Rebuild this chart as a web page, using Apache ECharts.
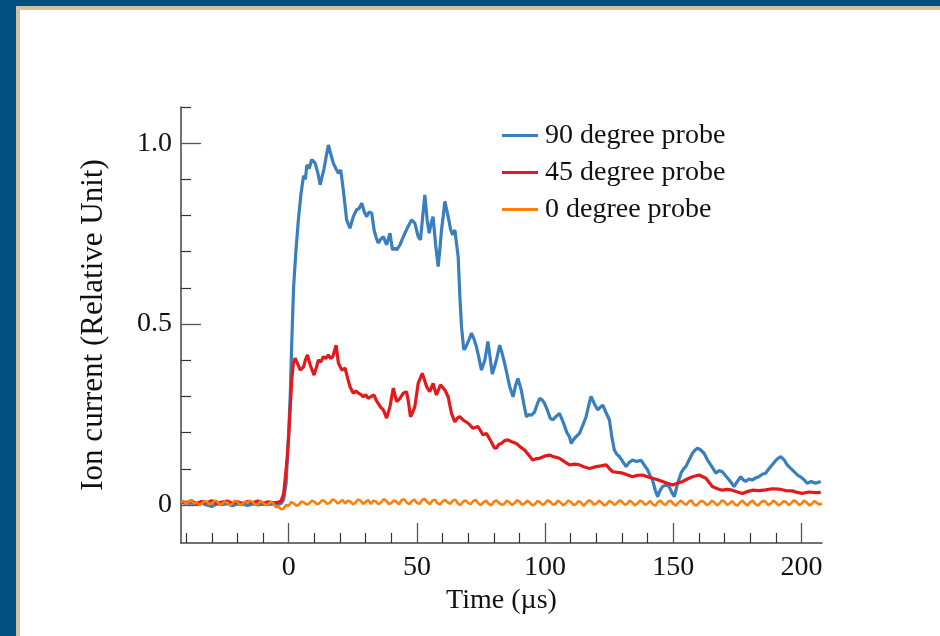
<!DOCTYPE html>
<html><head><meta charset="utf-8">
<script src="https://cdn.jsdelivr.net/npm/echarts@6/dist/echarts.min.js"></script>
<style>html,body{margin:0;padding:0;background:#fff}#c{width:940px;height:636px}</style>
</head><body><div id="c"></div>
<script>
var seriesNames = ['90 degree probe', '45 degree probe', '0 degree probe'];
var xLabelValues = [0, 50, 100, 150, 200];
var xMinorTicks = [-40,-30,-20,-10,10,20,30,40,60,70,80,90,110,120,130,140,160,170,180,190];
var yLabelValues = [0, 0.5, 1.0];
var yMinorTicks = [0.1,0.2,0.3,0.4,0.6,0.7,0.8,0.9,1.1];

var probe90 = [[-42,0.008],[-40,0.004],[-38,0.006],[-36,0.002],[-34,0.005],[-32,0.000],[-30,-0.004],[-28,0.003],[-26,0.001],[-24,0.004],[-22,-0.002],[-20,0.003],[-18,0.002],[-16,-0.001],[-14,0.003],[-12,0.000],[-10,0.002],[-8,0.001],[-6,0.003],[-4,0.002],[-3,0.004],[-2,0.014],[-1,0.06],[0,0.2],[0.6,0.3],[1.2,0.45],[1.9,0.60],[2.8,0.70],[3.8,0.79],[4.8,0.86],[5.8,0.91],[6.5,0.90],[7.1,0.94],[8,0.93],[9,0.955],[10.3,0.945],[11.3,0.92],[12.3,0.885],[13.1,0.91],[13.8,0.93],[14.8,0.97],[15.5,0.995],[16.4,0.97],[17.4,0.945],[18.4,0.93],[19.4,0.917],[20.3,0.926],[21.3,0.871],[22.6,0.788],[23.9,0.765],[25.2,0.797],[26.5,0.816],[27.5,0.82],[28.5,0.834],[29.5,0.81],[30.4,0.797],[31.4,0.81],[32.4,0.806],[33.3,0.76],[34.1,0.74],[34.9,0.724],[35.9,0.735],[36.9,0.742],[38.2,0.719],[39.5,0.751],[40.5,0.705],[41.3,0.71],[42.1,0.705],[43.4,0.719],[44.3,0.735],[45.3,0.751],[46.6,0.77],[47.9,0.788],[49.2,0.779],[50.5,0.742],[51.4,0.733],[52.3,0.8],[53.1,0.857],[54.0,0.788],[54.8,0.751],[55.6,0.78],[56.3,0.797],[57.3,0.72],[58.3,0.659],[59.0,0.71],[59.6,0.76],[60.3,0.8],[60.9,0.839],[62.2,0.797],[63.2,0.76],[63.9,0.747],[64.8,0.76],[65.5,0.72],[66.1,0.687],[66.7,0.586],[67.4,0.493],[68.3,0.429],[69.0,0.435],[69.7,0.44],[70.5,0.46],[71.3,0.475],[72.2,0.46],[73.2,0.438],[74.1,0.41],[75.2,0.373],[76.5,0.4],[77.7,0.452],[78.5,0.41],[79.4,0.362],[80.2,0.38],[81.0,0.4],[82.3,0.442],[83.2,0.42],[84.2,0.392],[85.2,0.36],[86.2,0.327],[87.5,0.299],[88.5,0.33],[89.4,0.35],[90.7,0.318],[91.7,0.28],[92.7,0.244],[93.7,0.25],[94.6,0.248],[95.9,0.257],[97.0,0.28],[97.9,0.295],[98.9,0.29],[99.8,0.281],[101.0,0.26],[102.0,0.24],[103.0,0.235],[104.3,0.245],[105.6,0.253],[107.0,0.23],[108.5,0.2],[109.5,0.189],[110.2,0.17],[111.0,0.18],[112.1,0.189],[113.4,0.198],[114.7,0.22],[116.0,0.244],[117.0,0.275],[117.9,0.3],[119.2,0.28],[120.5,0.263],[121.5,0.27],[122.5,0.276],[123.8,0.255],[125.1,0.235],[126.0,0.19],[127.0,0.152],[128.0,0.14],[129.0,0.134],[130.3,0.12],[131.6,0.106],[132.8,0.118],[134.1,0.124],[135.8,0.12],[137.4,0.124],[138.7,0.11],[140.0,0.097],[141.0,0.08],[141.9,0.069],[143.0,0.04],[143.9,0.023],[144.8,0.04],[145.8,0.051],[147.1,0.055],[148.4,0.051],[149.4,0.035],[150.4,0.023],[151.7,0.06],[153.0,0.088],[154.0,0.1],[154.9,0.106],[156.2,0.125],[157.5,0.143],[158.5,0.152],[159.4,0.157],[160.7,0.152],[162.0,0.143],[163.3,0.125],[164.6,0.111],[165.6,0.1],[166.6,0.088],[167.8,0.095],[169.1,0.092],[170.5,0.08],[171.8,0.069],[172.8,0.06],[173.7,0.051],[175.0,0.065],[176.3,0.078],[177.2,0.07],[178.2,0.065],[179.5,0.072],[180.8,0.069],[182.1,0.075],[183.4,0.078],[184.7,0.085],[186.0,0.088],[187.3,0.1],[188.6,0.111],[190.2,0.125],[191.9,0.134],[193.2,0.125],[194.4,0.111],[196.0,0.1],[197.7,0.088],[198.6,0.082],[199.6,0.078],[201.0,0.07],[202.2,0.06],[203.8,0.065],[205.5,0.06],[207.5,0.065]];

var probe45 = [[-42,0.01],[-40,0.006],[-38,0.012],[-36,0.004],[-34,0.01],[-32,0.006],[-30,0.012],[-28,0.004],[-26,0.008],[-24,0.011],[-22,0.005],[-20,0.009],[-18,0.004],[-16,0.01],[-14,0.006],[-12,0.011],[-10,0.005],[-8,0.009],[-6,0.006],[-4,0.008],[-3,0.01],[-2,0.03],[-1.4,0.069],[-0.6,0.13],[0,0.189],[0.6,0.27],[1.2,0.346],[1.8,0.39],[2.5,0.406],[3.5,0.39],[4.5,0.373],[5.8,0.382],[6.5,0.4],[7.3,0.415],[8.4,0.387],[9.9,0.359],[10.8,0.38],[11.6,0.401],[12.5,0.395],[13.5,0.41],[14.5,0.405],[15.5,0.415],[16.3,0.405],[17.2,0.41],[18.5,0.442],[19.4,0.392],[20.7,0.373],[22.0,0.378],[23.0,0.35],[23.9,0.327],[25.2,0.309],[26.2,0.315],[27.2,0.309],[28.2,0.305],[29.1,0.299],[30.0,0.305],[31.0,0.295],[32.2,0.3],[33.3,0.304],[34.1,0.29],[34.9,0.281],[35.9,0.27],[36.9,0.263],[38.2,0.24],[39.5,0.272],[40.8,0.323],[42.1,0.286],[43.4,0.295],[44.7,0.309],[46.0,0.313],[46.8,0.28],[47.5,0.244],[48.3,0.255],[49.2,0.272],[50.5,0.336],[52.1,0.364],[53.0,0.345],[53.8,0.327],[55.0,0.313],[56.3,0.336],[57.6,0.304],[59.2,0.332],[60.9,0.318],[62.2,0.299],[63.5,0.253],[64.8,0.23],[65.8,0.24],[66.7,0.244],[68.0,0.235],[70.0,0.226],[71.9,0.212],[73.8,0.217],[75.8,0.194],[77.1,0.198],[79.0,0.175],[80.2,0.158],[81.0,0.157],[82.0,0.168],[82.9,0.17],[84.2,0.178],[85.5,0.18],[87.0,0.175],[88.8,0.17],[90.4,0.16],[92.0,0.152],[93.6,0.138],[95.2,0.124],[96.5,0.128],[97.8,0.129],[99.8,0.135],[101.7,0.138],[103.6,0.133],[105.6,0.129],[107.5,0.12],[109.5,0.111],[111.5,0.113],[113.4,0.111],[115.3,0.105],[117.3,0.101],[119.9,0.106],[121.8,0.108],[123.8,0.111],[125.1,0.1],[126.4,0.092],[128.3,0.09],[130.3,0.088],[132.2,0.083],[134.1,0.078],[136.0,0.082],[138.0,0.083],[139.9,0.078],[141.9,0.074],[143.9,0.07],[145.8,0.065],[147.7,0.06],[149.7,0.055],[151.6,0.06],[153.6,0.065],[155.5,0.072],[157.5,0.078],[160.1,0.083],[162.7,0.074],[164.0,0.062],[165.2,0.051],[167.2,0.045],[169.1,0.041],[171.0,0.043],[173.0,0.041],[175.0,0.036],[176.9,0.032],[178.9,0.037],[180.8,0.041],[183.4,0.04],[186.0,0.042],[188.6,0.045],[191.2,0.044],[193.8,0.04],[196.4,0.039],[198.3,0.035],[200.3,0.032],[202.9,0.036],[205.5,0.034],[207.5,0.035]];

var probe0 = [[-42,0.008],[-41,0.012],[-40,0.002],[-39,0.009],[-38,0.013],[-37,0.004],[-36,0.008],[-35,0.001],[-34,0.003],[-33,0.011],[-32,0.009],[-31,0.002],[-30,0.005],[-29,0.012],[-28,0.011],[-27,0.001],[-26,0.003],[-25,0.010],[-24,0.007],[-23,-0.001],[-22,0.004],[-21,0.012],[-20,0.009],[-19,0.001],[-18,0.002],[-17,0.010],[-16,0.006],[-15,0.012],[-14,0.008],[-13,0.000],[-12,0.003],[-11,0.011],[-10,0.006],[-9,0.000],[-8,0.002],[-7,0.009],[-6,0.004],[-5,-0.006],[-4,-0.004],[-3,-0.012],[-2,-0.010],[-1,0.000],[0,-0.002],[1,0.008],[2,0.004],[3,-0.002],[4,0.001],[5,0.010],[6,0.007],[7,0.001],[8,0.004],[9,0.012],[10,0.009],[11,0.002],[12,0.005],[13,0.013],[14,0.011],[15,0.003],[16,0.006],[17,0.015],[18,0.013],[19,0.004],[20,0.008],[21,0.014],[22,0.004],[23,0.012],[24,0.01],[25,0.002],[26,0.006],[27,0.015],[28,0.012],[29,0.003],[30,0.008],[31,0.014],[32,0.003],[33,0.012],[34,0.01],[35,0.002],[36,0.007],[37,0.016],[38,0.012],[39,0.003],[40,0.005],[41,0.013],[42,0.009],[43,0.002],[44,0.013],[45,0.016],[46,0.007],[47,0.002],[48,0.011],[49,0.015],[50,0.006],[51,0.003],[52,0.014],[53,0.017],[54,0.008],[55,0.002],[56,0.012],[57,0.015],[58,0.005],[59,0.001],[60,0.01],[61,0.014],[62,0.007],[63,0.003],[64,0.012],[65,0.015],[66,0.004],[67,0.000],[68,0.009],[69,0.013],[70,0.006],[71,0.002],[72,0.011],[73,0.014],[74,0.004],[75,0.000],[76,0.008],[77,0.012],[78,0.003],[79,-0.001],[80,0.009],[81,0.013],[82,0.006],[83,0.001],[84,0.002],[85,0.012],[86,0.008],[87,0.000],[88,0.005],[89,0.013],[90,0.01],[91,0.001],[92,0.004],[93,0.012],[94,0.007],[95,-0.001],[96,0.002],[97,0.011],[98,0.008],[99,0.000],[100,0.005],[101,0.013],[102,0.009],[103,0.001],[104,0.003],[105,0.012],[106,0.007],[107,-0.001],[108,0.004],[109,0.012],[110,0.009],[111,0.000],[112,0.002],[113,0.011],[114,0.007],[115,-0.002],[116,0.005],[117,0.013],[118,0.01],[119,0.001],[120,0.004],[121,0.012],[122,0.007],[123,-0.001],[124,0.002],[125,0.011],[126,0.008],[127,0.000],[128,0.005],[129,0.013],[130,0.009],[131,0.001],[132,0.003],[133,0.012],[134,0.007],[135,-0.001],[136,0.004],[137,0.012],[138,0.009],[139,0.000],[140,0.005],[141,0.011],[142,0.002],[143,-0.002],[144,0.008],[145,0.012],[146,0.004],[147,0.000],[148,0.01],[149,0.012],[150,0.003],[151,-0.002],[152,0.007],[153,0.012],[154,0.005],[155,0.000],[156,0.009],[157,0.013],[158,0.002],[159,-0.002],[160,0.006],[161,0.012],[162,0.008],[163,0.000],[164,0.003],[165,0.012],[166,0.007],[167,-0.001],[168,0.004],[169,0.013],[170,0.009],[171,0.000],[172,0.005],[173,0.011],[174,0.002],[175,-0.002],[176,0.007],[177,0.012],[178,0.004],[179,-0.001],[180,0.008],[181,0.012],[182,0.003],[183,-0.002],[184,0.006],[185,0.012],[186,0.009],[187,0.000],[188,0.004],[189,0.012],[190,0.007],[191,-0.001],[192,0.003],[193,0.011],[194,0.008],[195,0.000],[196,0.005],[197,0.013],[198,0.009],[199,0.000],[200,0.004],[201,0.012],[202,0.007],[203,-0.001],[204,0.003],[205,0.011],[206,0.006],[207,0.001],[208,0.004]];

var colors = ['#3a7fbd', '#e3191c', '#ff7f0e'];
var FONT = '"Liberation Serif","Times New Roman",serif';
var X_MIN = -42, X_MAX = 208, Y_MIN = -0.105, Y_MAX = 1.1;

var chart = echarts.init(document.getElementById('c'), null, {renderer: 'canvas'});
var lineSeries = function (name, data, color, z, w) {
  return {name: name, type: 'line', data: data, showSymbol: false, symbol: 'none',
    lineStyle: {color: color, width: w}, itemStyle: {color: color}, z: z, animation: false, clip: true};
};
chart.setOption({
  backgroundColor: '#ffffff',
  animation: false,
  graphic: [
    {type: 'rect', shape: {x: 0, y: 0, width: 940, height: 10}, style: {fill: '#d3c1a1'}, silent: true},
    {type: 'rect', shape: {x: 0, y: 0, width: 20, height: 636}, style: {fill: '#d3c1a1'}, silent: true},
    {type: 'rect', shape: {x: 0, y: 0, width: 940, height: 6}, style: {fill: '#01507f'}, silent: true},
    {type: 'rect', shape: {x: 0, y: 0, width: 16, height: 636}, style: {fill: '#01507f'}, silent: true}
  ],
  legend: {
    orient: 'vertical', left: 497, top: 116, itemWidth: 36, itemHeight: 3, itemGap: 8,
    icon: 'rect',
    data: seriesNames,
    textStyle: {fontFamily: FONT, fontSize: 28, color: '#111', padding: [0, 0, 0, 2], lineHeight: 29}
  },
  grid: {left: 181, right: 118, top: 107, bottom: 93, containLabel: false},
  xAxis: [{
    type: 'value', min: X_MIN, max: X_MAX, position: 'bottom',
    name: 'Time (\u00b5s)', nameLocation: 'middle', nameGap: 38,
    nameTextStyle: {fontFamily: FONT, fontSize: 28, color: '#111'},
    axisLine: {show: true, onZero: false, lineStyle: {color: '#444', width: 1.5}},
    axisTick: {show: true, inside: true, length: 20, customValues: xLabelValues, lineStyle: {color: '#555', width: 1.3}},
    axisLabel: {show: true, customValues: xLabelValues, margin: 11, fontFamily: FONT, fontSize: 28, color: '#111'},
    splitLine: {show: false}
  }, {
    type: 'value', min: X_MIN, max: X_MAX, position: 'bottom',
    axisLine: {show: false, onZero: false},
    axisTick: {show: true, inside: true, length: 10, customValues: xMinorTicks, lineStyle: {color: '#333', width: 1.2}},
    axisLabel: {show: false}, splitLine: {show: false}
  }],
  yAxis: [{
    type: 'value', min: Y_MIN, max: Y_MAX, position: 'left',
    name: 'Ion current (Relative Unit)', nameLocation: 'middle', nameGap: 72,
    nameTextStyle: {fontFamily: FONT, fontSize: 31, color: '#111'},
    axisLine: {show: true, onZero: false, lineStyle: {color: '#444', width: 1.5}},
    axisTick: {show: true, inside: true, length: 20, customValues: yLabelValues, lineStyle: {color: '#555', width: 1.3}},
    axisLabel: {show: true, customValues: yLabelValues, margin: 9, fontFamily: FONT, fontSize: 28, color: '#111',
      formatter: function (v) { return v === 0 ? '0' : v.toFixed(1); }},
    splitLine: {show: false}
  }, {
    type: 'value', min: Y_MIN, max: Y_MAX, position: 'left',
    axisLine: {show: false, onZero: false},
    axisTick: {show: true, inside: true, length: 10, customValues: yMinorTicks, lineStyle: {color: '#333', width: 1.2}},
    axisLabel: {show: false}, splitLine: {show: false}
  }],
  series: [
    lineSeries(seriesNames[0], probe90, colors[0], 2, 3.2),
    lineSeries(seriesNames[1], probe45, colors[1], 3, 3.2),
    lineSeries(seriesNames[2], probe0, colors[2], 4, 2.6)
  ]
});
</script></body></html>
